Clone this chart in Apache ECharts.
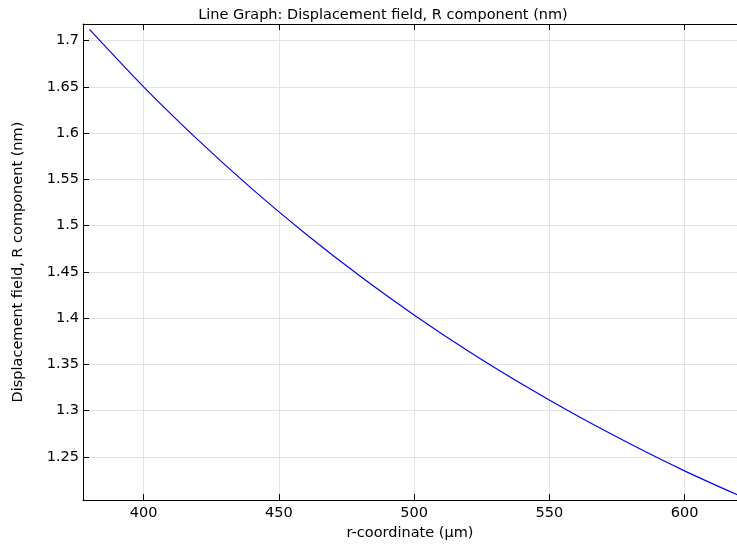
<!DOCTYPE html>
<html>
<head>
<meta charset="utf-8">
<script src="https://cdn.jsdelivr.net/npm/echarts@6/dist/echarts.min.js"></script>
<style>
  html, body { margin: 0; padding: 0; background: #fff; }
  #main { width: 737px; height: 546px; }
</style>
</head>
<body>
<div id="main"></div>
<script>
// r-coordinate (µm)
const rValues = [380, 400, 420, 440, 460, 480, 500, 520, 540, 560, 580, 600, 620];
// Displacement field, R component (nm)
const uValues = [1.712, 1.650, 1.593, 1.540, 1.491, 1.4455, 1.4035, 1.3645, 1.3285, 1.295, 1.264, 1.235, 1.2085];

const titleText = 'Line Graph: Displacement field, R component (nm)';
const xName = 'r-coordinate (µm)';
const yName = 'Displacement field, R component (nm)';

const font = 'DejaVu Sans';
const chart = echarts.init(document.getElementById('main'));

const points = rValues.map((r, i) => [r, uValues[i]]);

// 轴的公共样式
const axisLineStyle = { lineStyle: { color: '#000', width: 1 } };
const tickStyle = { show: true, inside: true, length: 6, lineStyle: { color: '#000', width: 1 } };

// 原图右边被裁掉，x 轴上限取在图片边缘处
const xMin = 377.6;
const xMax = 619.4;

const option = {
    animation: false,
    backgroundColor: '#fff',
    title: {
        text: titleText,
        left: 378,
        top: 3,
        textAlign: 'center',
        textStyle: { fontFamily: font, fontSize: 14.5, fontWeight: 'normal', color: '#000' }
    },
    grid: { left: 83, top: 24, right: 0, bottom: 41, containLabel: false },
    xAxis: [
        {
            type: 'value',
            min: xMin,
            max: xMax,
            splitNumber: 5,
            position: 'bottom',
            name: xName,
            nameLocation: 'middle',
            nameGap: 22,
            nameTextStyle: { fontFamily: font, fontSize: 14.5, color: '#000' },
            axisLine: { show: true, ...axisLineStyle },
            axisTick: tickStyle,
            axisLabel: {
                fontFamily: font, fontSize: 14.5, color: '#000', margin: 6,
                showMinLabel: false, showMaxLabel: false
            },
            splitLine: { show: true, lineStyle: { color: '#e3e3e3', width: 1 } }
        },
        {
            type: 'value',
            min: xMin,
            max: xMax,
            splitNumber: 5,
            position: 'top',
            axisLine: { show: true, ...axisLineStyle },
            axisTick: tickStyle,
            axisLabel: { show: false },
            splitLine: { show: false }
        }
    ],
    yAxis: [
        {
            type: 'value',
            min: 1.2034,
            max: 1.7179,
            splitNumber: 10,
            name: yName,
            nameLocation: 'middle',
            nameGap: 57,
            nameTextStyle: { fontFamily: font, fontSize: 14.5, color: '#000' },
            axisLine: { show: true, ...axisLineStyle },
            axisTick: tickStyle,
            axisLabel: {
                fontFamily: font, fontSize: 14.5, color: '#000', margin: 4,
                showMinLabel: false, showMaxLabel: false
            },
            splitLine: { show: true, lineStyle: { color: '#e3e3e3', width: 1 } }
        }
    ],
    series: [
        {
            type: 'line',
            data: points,
            xAxisIndex: 0,
            yAxisIndex: 0,
            showSymbol: false,
            smooth: 0.3,
            clip: true,
            lineStyle: { color: '#0000ff', width: 1.2 }
        }
    ]
};

chart.setOption(option);
</script>
</body>
</html>
